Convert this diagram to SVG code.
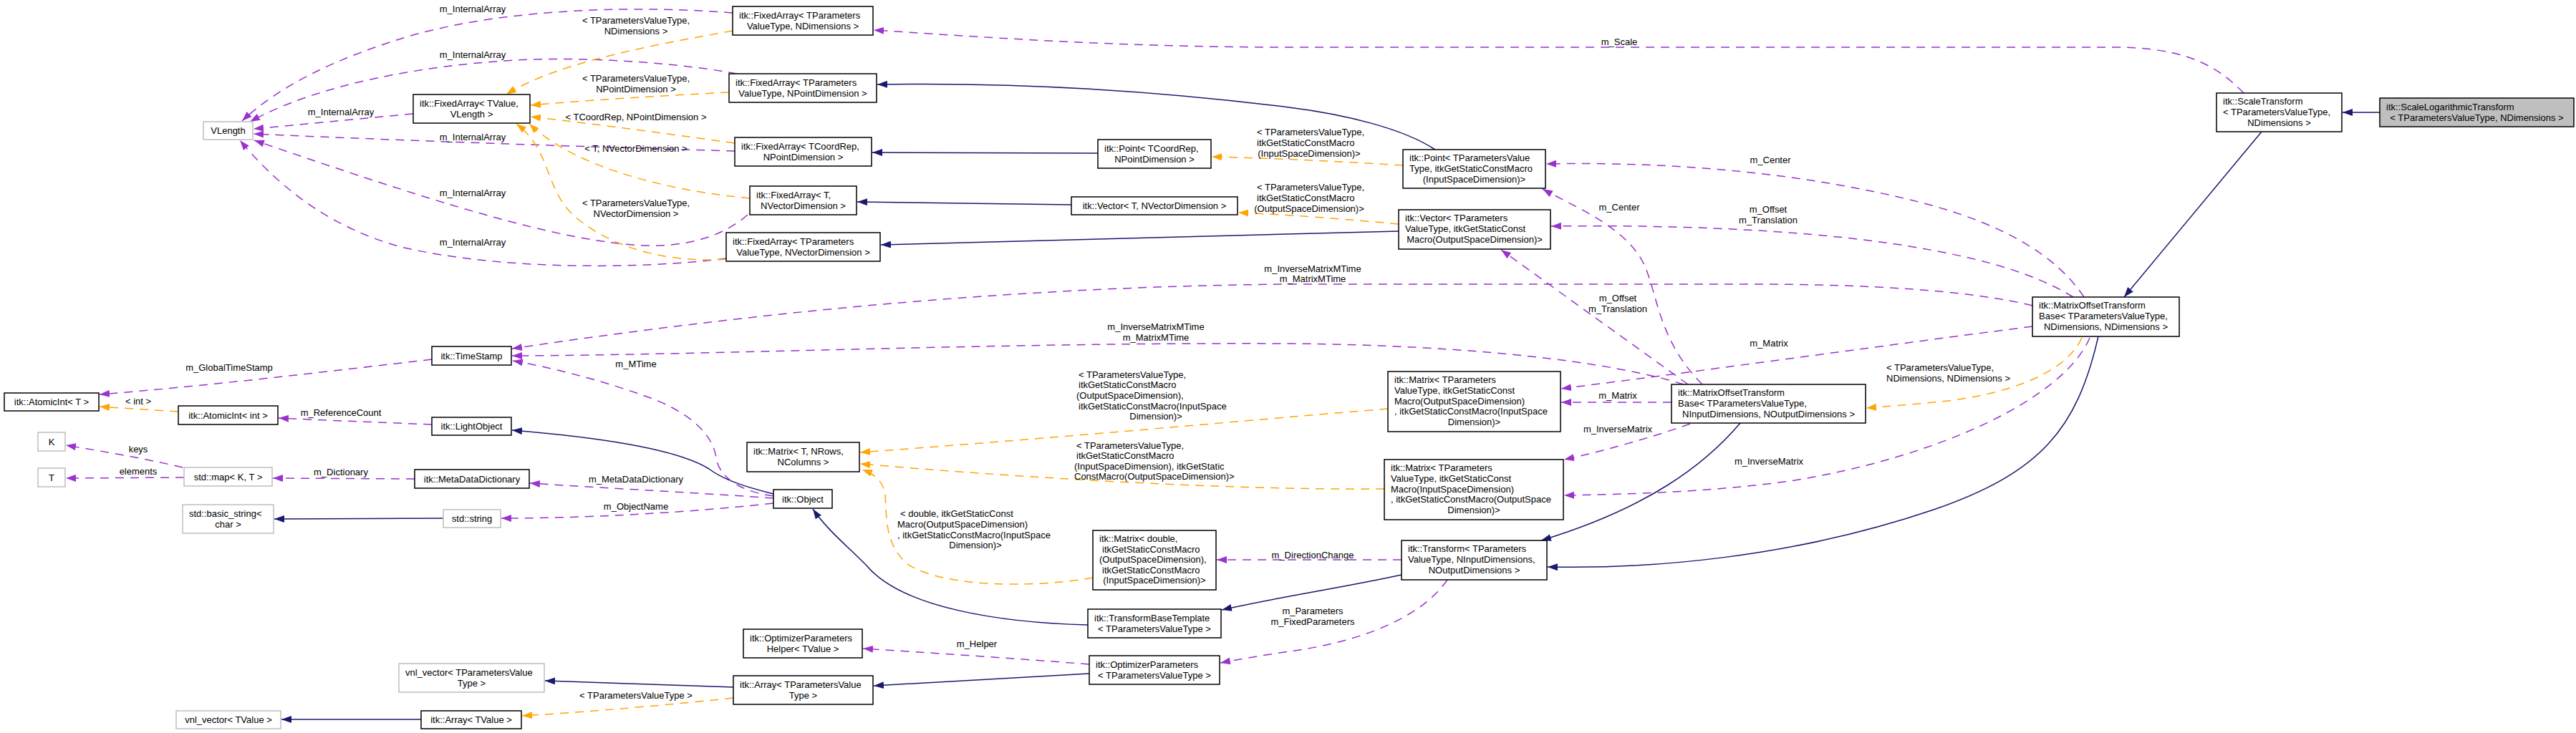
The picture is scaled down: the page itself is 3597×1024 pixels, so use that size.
<svg xmlns="http://www.w3.org/2000/svg" width="3597" height="1024" viewBox="0 0 3597 1024">
<style>
text{font-family:"Liberation Sans",Arial,sans-serif;font-size:13px;fill:#000}
.c{text-anchor:middle}
.l{text-anchor:start}
.b{fill:#fff;stroke:#000;stroke-width:1.5}
.g{fill:#fff;stroke:#bfbfbf;stroke-width:1.5}
.s{fill:#bfbfbf;stroke:#000;stroke-width:1.5}
.u{fill:none;stroke:#9a32cd;stroke-width:1.5;stroke-dasharray:12,9;marker-end:url(#ap)}
.t{fill:none;stroke:#ffa500;stroke-width:1.5;stroke-dasharray:12,9;marker-end:url(#ao)}
.i{fill:none;stroke:#191970;stroke-width:1.5;marker-end:url(#an)}
</style>
<defs>
<marker id="ap" viewBox="0 0 14 10" refX="14" refY="5" markerWidth="14" markerHeight="10" markerUnits="userSpaceOnUse" orient="auto"><path d="M0,0L14,5L0,10z" fill="#9a32cd"/></marker>
<marker id="ao" viewBox="0 0 14 10" refX="14" refY="5" markerWidth="14" markerHeight="10" markerUnits="userSpaceOnUse" orient="auto"><path d="M0,0L14,5L0,10z" fill="#ffa500"/></marker>
<marker id="an" viewBox="0 0 14 10" refX="14" refY="5" markerWidth="14" markerHeight="10" markerUnits="userSpaceOnUse" orient="auto"><path d="M0,0L14,5L0,10z" fill="#191970"/></marker>
</defs>
<rect width="3597" height="1024" fill="#fff"/>
<g id="connectors">
<path class="u" d="M1023,18 C900,8 720,10 580,48 C470,80 390,120 338,169"/>
<path class="u" d="M1029,103 C960,90 830,78 720,84 C580,92 440,120 349,170"/>
<path class="u" d="M577,159 C500,166 420,174 354,180"/>
<path class="u" d="M1026,211 C850,206 600,198 354,187"/>
<path class="u" d="M1044,300 C1010,330 960,345 900,343 C780,338 600,280 355,196"/>
<path class="u" d="M1014,361 C900,376 700,378 560,345 C450,315 380,250 335,196"/>
<path class="t" d="M1023,43 C930,60 780,85 707,132"/>
<path class="t" d="M1018,129 C920,134 820,140 741,147"/>
<path class="t" d="M1026,200 C920,185 820,172 741,163"/>
<path class="t" d="M1047,277 C950,268 810,240 739,173"/>
<path class="t" d="M1014,362 C930,368 850,345 800,300 C760,262 770,210 721,173"/>
<path class="i" d="M2004,209 C1960,180 1880,160 1800,150 C1600,125 1400,115 1225,118"/>
<path class="i" d="M1533,214 L1218,213"/>
<path class="i" d="M1496,286 L1197,282"/>
<path class="i" d="M1953,323 C1700,330 1450,336 1230,342"/>
<path class="t" d="M1959,231 C1880,226 1780,221 1692,219"/>
<path class="t" d="M1953,313 C1880,306 1800,300 1729,297"/>
<path class="u" d="M3133,130 C3090,85 3040,66 2950,66 L1800,66 C1550,66 1350,50 1220,42"/>
<path class="i" d="M3323,157 L3271,157"/>
<path class="i" d="M3158,184 L2966,415"/>
<path class="u" d="M2910,415 C2860,340 2760,300 2650,275 C2520,245 2350,225 2159,229"/>
<path class="u" d="M2895,415 C2830,375 2740,355 2640,340 C2500,320 2330,314 2166,316"/>
<path class="u" d="M2838,427 C2750,405 2600,397 2450,397 L1800,397 C1450,400 1100,430 715,487"/>
<path class="u" d="M2838,456 C2650,480 2400,515 2180,543"/>
<path class="u" d="M2918,472 C2880,560 2700,640 2500,672 C2380,688 2280,690 2184,692"/>
<path class="t" d="M2907,472 C2880,530 2780,555 2700,562 C2660,566 2630,568 2606,570"/>
<path class="i" d="M2930,470 C2900,600 2850,660 2700,712 C2500,780 2300,795 2161,792"/>
<path class="u" d="M2377,537 C2320,480 2315,420 2300,380 C2280,320 2200,290 2154,264"/>
<path class="u" d="M2357,537 L2096,349"/>
<path class="u" d="M2351,537 C2250,505 2050,482 1800,480 C1400,478 1000,496 715,497"/>
<path class="u" d="M2334,562 L2180,562"/>
<path class="u" d="M2360,592 C2310,610 2240,630 2184,642"/>
<path class="i" d="M2430,591 C2380,650 2300,710 2152,755"/>
<path class="t" d="M1938,571 C1800,582 1500,610 1201,632"/>
<path class="t" d="M1933,683 C1700,685 1400,665 1201,648"/>
<path class="t" d="M1526,807 C1440,822 1320,820 1270,790 C1230,760 1240,710 1235,685 C1230,670 1220,662 1204,656"/>
<path class="u" d="M1957,782 L1699,782"/>
<path class="i" d="M1957,803 C1880,820 1780,835 1706,852"/>
<path class="u" d="M2021,810 C1980,870 1880,900 1800,910 C1760,916 1730,921 1704,926"/>
<path class="i" d="M1519,873 C1400,870 1260,850 1210,790 C1180,760 1155,740 1135,711"/>
<path class="i" d="M1080,690 C1040,680 1010,670 990,655 C950,630 850,612 715,601"/>
<path class="u" d="M1080,693 C1040,688 1005,670 1000,640 C995,600 950,570 900,553 C850,535 780,515 716,504"/>
<path class="u" d="M1080,696 C1000,690 850,682 740,675"/>
<path class="u" d="M1080,703 C1000,712 850,724 700,724"/>
<path class="u" d="M603,502 C450,520 280,540 139,551"/>
<path class="t" d="M249,575 L139,568"/>
<path class="u" d="M603,593 C530,590 450,587 389,584"/>
<path class="u" d="M255,653 C200,640 140,630 92,622"/>
<path class="u" d="M257,667 L92,668"/>
<path class="u" d="M579,669 L381,668"/>
<path class="i" d="M619,724 L383,725"/>
<path class="i" d="M1024,960 C930,957 850,954 761,951"/>
<path class="t" d="M1024,975 C930,985 830,994 729,1000"/>
<path class="i" d="M588,1005 L393,1005"/>
<path class="u" d="M1521,928 C1420,920 1300,912 1205,906"/>
<path class="i" d="M1521,941 C1420,946 1320,952 1220,958"/>
</g>
<g id="edge-labels">
<text class="c" x="660" y="16.5">m_InternalArray</text>
<text class="c" x="660" y="80.5">m_InternalArray</text>
<text class="c" x="476" y="160.5">m_InternalArray</text>
<text class="c" x="660" y="195.5">m_InternalArray</text>
<text class="c" x="660" y="273.5">m_InternalArray</text>
<text class="c" x="660" y="342.5">m_InternalArray</text>
<text class="c" x="888" y="32.5">&lt; TParametersValueType,</text>
<text class="c" x="888" y="47.5">NDimensions &gt;</text>
<text class="c" x="888" y="113.5">&lt; TParametersValueType,</text>
<text class="c" x="888" y="128.5">NPointDimension &gt;</text>
<text class="c" x="888" y="167.5">&lt; TCoordRep, NPointDimension &gt;</text>
<text class="c" x="888" y="211.5">&lt; T, NVectorDimension &gt;</text>
<text class="c" x="888" y="287.5">&lt; TParametersValueType,</text>
<text class="c" x="888" y="302.5">NVectorDimension &gt;</text>
<text class="c" x="2261" y="62.5">m_Scale</text>
<text class="l" x="1755" y="188.5">&lt; TParametersValueType,</text>
<text class="l" x="1755" y="203.5">itkGetStaticConstMacro</text>
<text class="c" x="1828" y="218.5">(InputSpaceDimension)&gt;</text>
<text class="l" x="1755" y="265.5">&lt; TParametersValueType,</text>
<text class="l" x="1755" y="280.5">itkGetStaticConstMacro</text>
<text class="c" x="1828" y="295.5">(OutputSpaceDimension)&gt;</text>
<text class="c" x="2472" y="227.5">m_Center</text>
<text class="c" x="2261" y="293.5">m_Center</text>
<text class="c" x="2469" y="296.5">m_Offset</text>
<text class="c" x="2469" y="311.5">m_Translation</text>
<text class="c" x="2259" y="420.5">m_Offset</text>
<text class="c" x="2259" y="435.5">m_Translation</text>
<text class="c" x="1833" y="379.5">m_InverseMatrixMTime</text>
<text class="c" x="1833" y="393.5">m_MatrixMTime</text>
<text class="c" x="1614" y="460.5">m_InverseMatrixMTime</text>
<text class="c" x="1614" y="475.5">m_MatrixMTime</text>
<text class="c" x="2470" y="483.5">m_Matrix</text>
<text class="c" x="2259" y="556.5">m_Matrix</text>
<text class="c" x="2259" y="603.5">m_InverseMatrix</text>
<text class="c" x="2470" y="648.5">m_InverseMatrix</text>
<text class="l" x="2634" y="517.5">&lt; TParametersValueType,</text>
<text class="l" x="2634" y="532.5">NDimensions, NDimensions &gt;</text>
<text class="l" x="1506" y="527.5">&lt; TParametersValueType,</text>
<text class="l" x="1506" y="541.5">itkGetStaticConstMacro</text>
<text class="l" x="1503" y="556.5">(OutputSpaceDimension),</text>
<text class="l" x="1506" y="571.5">itkGetStaticConstMacro(InputSpace</text>
<text class="c" x="1614" y="585.5">Dimension)&gt;</text>
<text class="l" x="1503" y="626.5">&lt; TParametersValueType,</text>
<text class="l" x="1503" y="640.5">itkGetStaticConstMacro</text>
<text class="l" x="1500" y="655.5">(InputSpaceDimension), itkGetStatic</text>
<text class="l" x="1500" y="669.5">ConstMacro(OutputSpaceDimension)&gt;</text>
<text class="l" x="1257" y="721.5">&lt; double, itkGetStaticConst</text>
<text class="l" x="1253" y="736.5">Macro(OutputSpaceDimension)</text>
<text class="l" x="1253" y="751.5">, itkGetStaticConstMacro(InputSpace</text>
<text class="c" x="1362" y="765.5">Dimension)&gt;</text>
<text class="c" x="1833" y="779.5">m_DirectionChange</text>
<text class="c" x="1833" y="857.5">m_Parameters</text>
<text class="c" x="1833" y="872.5">m_FixedParameters</text>
<text class="c" x="1364" y="903.5">m_Helper</text>
<text class="c" x="320" y="517.5">m_GlobalTimeStamp</text>
<text class="c" x="193" y="564.5">&lt; int &gt;</text>
<text class="c" x="476" y="580.5">m_ReferenceCount</text>
<text class="c" x="193" y="631.5">keys</text>
<text class="c" x="193" y="662.5">elements</text>
<text class="c" x="476" y="663.5">m_Dictionary</text>
<text class="c" x="888" y="512.5">m_MTime</text>
<text class="c" x="888" y="673.5">m_MetaDataDictionary</text>
<text class="c" x="888" y="711.5">m_ObjectName</text>
<text class="c" x="888" y="975.5">&lt; TParametersValueType &gt;</text>
</g>
<g id="n-vlength"><rect class="g" x="284" y="170" width="69" height="25"/><text class="c" x="318.5" y="187">VLength</text></g>
<g id="n-fa-tvalue"><rect class="b" x="577" y="132" width="163" height="40"/><text class="l" x="586" y="148.5">itk::FixedArray&lt; TValue,</text><text class="c" x="658.5" y="163.5">VLength &gt;</text></g>
<g id="n-fa-ndim"><rect class="b" x="1023" y="9" width="196" height="40"/><text class="l" x="1032" y="25.5">itk::FixedArray&lt; TParameters</text><text class="c" x="1121" y="40.5">ValueType, NDimensions &gt;</text></g>
<g id="n-fa-npd"><rect class="b" x="1018" y="103" width="206" height="40"/><text class="l" x="1027" y="119.5">itk::FixedArray&lt; TParameters</text><text class="c" x="1121" y="134.5">ValueType, NPointDimension &gt;</text></g>
<g id="n-fa-tcoordrep"><rect class="b" x="1026" y="192" width="191" height="40"/><text class="l" x="1035" y="208.5">itk::FixedArray&lt; TCoordRep,</text><text class="c" x="1121.5" y="223.5">NPointDimension &gt;</text></g>
<g id="n-point-tcoordrep"><rect class="b" x="1533" y="195" width="158" height="40"/><text class="l" x="1542" y="211.5">itk::Point&lt; TCoordRep,</text><text class="c" x="1612" y="226.5">NPointDimension &gt;</text></g>
<g id="n-fa-t-nvd"><rect class="b" x="1047" y="260" width="149" height="40"/><text class="l" x="1056" y="276.5">itk::FixedArray&lt; T,</text><text class="c" x="1121.5" y="291.5">NVectorDimension &gt;</text></g>
<g id="n-vector-t"><rect class="b" x="1496" y="275" width="232" height="25"/><text class="c" x="1612" y="292">itk::Vector&lt; T, NVectorDimension &gt;</text></g>
<g id="n-fa-nvd"><rect class="b" x="1014" y="325" width="215" height="40"/><text class="l" x="1023" y="341.5">itk::FixedArray&lt; TParameters</text><text class="c" x="1121.5" y="356.5">ValueType, NVectorDimension &gt;</text></g>
<g id="n-point-tpvt"><rect class="b" x="1959" y="209" width="199" height="54"/><text class="l" x="1968" y="225">itk::Point&lt; TParametersValue</text><text class="l" x="1968" y="240">Type, itkGetStaticConstMacro</text><text class="c" x="2058.5" y="254.5">(InputSpaceDimension)&gt;</text></g>
<g id="n-vector-tpvt"><rect class="b" x="1953" y="293" width="212" height="55"/><text class="l" x="1962" y="309">itk::Vector&lt; TParameters</text><text class="l" x="1962" y="324">ValueType, itkGetStaticConst</text><text class="c" x="2059" y="338.5">Macro(OutputSpaceDimension)&gt;</text></g>
<g id="n-scaletransform"><rect class="b" x="3095" y="130" width="175" height="54"/><text class="l" x="3104" y="146">itk::ScaleTransform</text><text class="l" x="3104" y="161">&lt; TParametersValueType,</text><text class="c" x="3182.5" y="175.5">NDimensions &gt;</text></g>
<g id="n-scalelog"><rect class="s" x="3323" y="137" width="271" height="40"/><text class="l" x="3332" y="153.5">itk::ScaleLogarithmicTransform</text><text class="c" x="3458.5" y="168.5">&lt; TParametersValueType, NDimensions &gt;</text></g>
<g id="n-motb-ndim"><rect class="b" x="2838" y="415" width="205" height="55"/><text class="l" x="2847" y="431">itk::MatrixOffsetTransform</text><text class="l" x="2847" y="446">Base&lt; TParametersValueType,</text><text class="c" x="2940.5" y="460.5">NDimensions, NDimensions &gt;</text></g>
<g id="n-motb-nin"><rect class="b" x="2334" y="537" width="271" height="54"/><text class="l" x="2343" y="553">itk::MatrixOffsetTransform</text><text class="l" x="2343" y="568">Base&lt; TParametersValueType,</text><text class="c" x="2469.5" y="582.5">NInputDimensions, NOutputDimensions &gt;</text></g>
<g id="n-matrix-outin"><rect class="b" x="1938" y="519" width="241" height="84"/><text class="l" x="1947" y="535">itk::Matrix&lt; TParameters</text><text class="l" x="1947" y="550">ValueType, itkGetStaticConst</text><text class="l" x="1947" y="564.5">Macro(OutputSpaceDimension)</text><text class="l" x="1947" y="579">, itkGetStaticConstMacro(InputSpace</text><text class="c" x="2058.5" y="593.5">Dimension)&gt;</text></g>
<g id="n-matrix-inout"><rect class="b" x="1933" y="642" width="250" height="84"/><text class="l" x="1942" y="658">itk::Matrix&lt; TParameters</text><text class="l" x="1942" y="673">ValueType, itkGetStaticConst</text><text class="l" x="1942" y="687.5">Macro(InputSpaceDimension)</text><text class="l" x="1942" y="702">, itkGetStaticConstMacro(OutputSpace</text><text class="c" x="2058" y="716.5">Dimension)&gt;</text></g>
<g id="n-transform"><rect class="b" x="1957" y="755" width="203" height="55"/><text class="l" x="1966" y="771">itk::Transform&lt; TParameters</text><text class="l" x="1966" y="786">ValueType, NInputDimensions,</text><text class="c" x="2058.5" y="800.5">NOutputDimensions &gt;</text></g>
<g id="n-timestamp"><rect class="b" x="603" y="484" width="111" height="26"/><text class="c" x="658.5" y="501.5">itk::TimeStamp</text></g>
<g id="n-atomicint-t"><rect class="b" x="6" y="549" width="132" height="25"/><text class="c" x="72" y="566">itk::AtomicInt&lt; T &gt;</text></g>
<g id="n-atomicint-int"><rect class="b" x="249" y="567" width="139" height="26"/><text class="c" x="318.5" y="584.5">itk::AtomicInt&lt; int &gt;</text></g>
<g id="n-lightobject"><rect class="b" x="603" y="583" width="111" height="25"/><text class="c" x="658.5" y="600">itk::LightObject</text></g>
<g id="n-k"><rect class="g" x="53" y="604" width="38" height="26"/><text class="c" x="72" y="621.5">K</text></g>
<g id="n-t"><rect class="g" x="53" y="654" width="38" height="26"/><text class="c" x="72" y="671.5">T</text></g>
<g id="n-stdmap"><rect class="g" x="257" y="653" width="123" height="26"/><text class="c" x="318.5" y="670.5">std::map&lt; K, T &gt;</text></g>
<g id="n-mdd"><rect class="b" x="579" y="656" width="160" height="26"/><text class="c" x="659" y="673.5">itk::MetaDataDictionary</text></g>
<g id="n-matrix-t"><rect class="b" x="1043" y="618" width="157" height="41"/><text class="l" x="1052" y="634.5">itk::Matrix&lt; T, NRows,</text><text class="c" x="1121.5" y="649.5">NColumns &gt;</text></g>
<g id="n-object"><rect class="b" x="1080" y="684" width="82" height="26"/><text class="c" x="1121" y="701.5">itk::Object</text></g>
<g id="n-basicstring"><rect class="g" x="255" y="705" width="127" height="40"/><text class="l" x="264" y="721.5">std::basic_string&lt;</text><text class="c" x="318.5" y="736.5">char &gt;</text></g>
<g id="n-stdstring"><rect class="g" x="619" y="712" width="80" height="25"/><text class="c" x="659" y="729">std::string</text></g>
<g id="n-matrix-double"><rect class="b" x="1526" y="741" width="172" height="83"/><text class="l" x="1535" y="757">itk::Matrix&lt; double,</text><text class="l" x="1539" y="771.5">itkGetStaticConstMacro</text><text class="l" x="1535" y="786">(OutputSpaceDimension),</text><text class="l" x="1539" y="800.5">itkGetStaticConstMacro</text><text class="c" x="1612" y="815">(InputSpaceDimension)&gt;</text></g>
<g id="n-tbt"><rect class="b" x="1519" y="851" width="186" height="40"/><text class="l" x="1528" y="867.5">itk::TransformBaseTemplate</text><text class="c" x="1612" y="882.5">&lt; TParametersValueType &gt;</text></g>
<g id="n-oph"><rect class="b" x="1038" y="879" width="166" height="40"/><text class="l" x="1047" y="895.5">itk::OptimizerParameters</text><text class="c" x="1121" y="910.5">Helper&lt; TValue &gt;</text></g>
<g id="n-optparams"><rect class="b" x="1521" y="916" width="182" height="40"/><text class="l" x="1530" y="932.5">itk::OptimizerParameters</text><text class="c" x="1612" y="947.5">&lt; TParametersValueType &gt;</text></g>
<g id="n-array-tpvt"><rect class="b" x="1024" y="944" width="195" height="40"/><text class="l" x="1033" y="960.5">itk::Array&lt; TParametersValue</text><text class="c" x="1121.5" y="975.5">Type &gt;</text></g>
<g id="n-vnl-tpvt"><rect class="g" x="557" y="927" width="203" height="40"/><text class="l" x="566" y="943.5">vnl_vector&lt; TParametersValue</text><text class="c" x="658.5" y="958.5">Type &gt;</text></g>
<g id="n-array-tvalue"><rect class="b" x="588" y="993" width="140" height="25"/><text class="c" x="658" y="1010">itk::Array&lt; TValue &gt;</text></g>
<g id="n-vnl-tvalue"><rect class="g" x="246" y="993" width="146" height="25"/><text class="c" x="319" y="1010">vnl_vector&lt; TValue &gt;</text></g>
</svg>
